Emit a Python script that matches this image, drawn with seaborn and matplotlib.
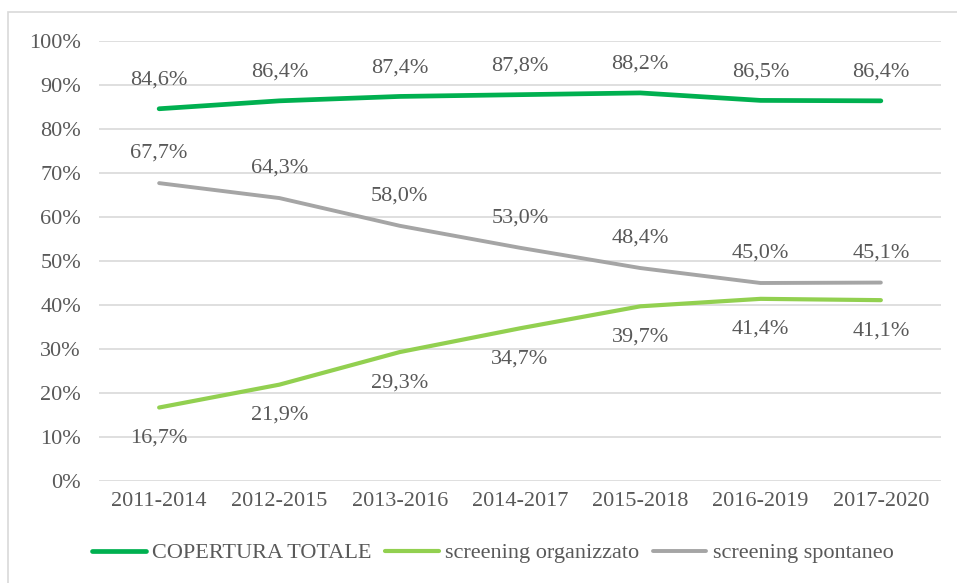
import numpy as np
import pandas as pd
import seaborn as sns
import matplotlib.pyplot as plt
from matplotlib.patches import Rectangle

periodi = ["2011-2014", "2012-2015", "2013-2016", "2014-2017",
           "2015-2018", "2016-2019", "2017-2020"]
copertura = [84.6, 86.4, 87.4, 87.8, 88.2, 86.5, 86.4]
organizzato = [16.7, 21.9, 29.3, 34.7, 39.7, 41.4, 41.1]
spontaneo = [67.7, 64.3, 58.0, 53.0, 48.4, 45.0, 45.1]

serie = ["COPERTURA TOTALE", "screening organizzato", "screening spontaneo"]
colori = ["#00B050", "#92D050", "#A5A5A5"]
spessori = [3.4, 3.0, 2.8]

df = pd.DataFrame({"periodo": periodi * 3,
                   "valore": copertura + organizzato + spontaneo,
                   "serie": np.repeat(serie, len(periodi))})

sns.set_theme(style="white")
plt.rcParams['font.family'] = ['Liberation Serif', 'DejaVu Serif']
testo = "#595959"
fs = 16

fig = plt.figure(figsize=(9.57, 5.83), dpi=100)
ax = fig.add_axes([99 / 957, 1 - 481 / 583, 842 / 957, 440 / 583])

sns.lineplot(data=df, x="periodo", y="valore", hue="serie", palette=colori,
             sort=False, ax=ax, legend=False)
for l, lw in zip(ax.lines, spessori):
    l.set_solid_capstyle("round")
    l.set_linewidth(lw)

ax.set_ylim(0, 100)
ax.set_xlim(-0.5, 6.5)
ax.set_yticks(range(0, 101, 10))
ax.set_yticklabels([f"{v}%" for v in range(0, 101, 10)])
ax.grid(axis="y", color="#D9D9D9", linewidth=1.2)
ax.set_axisbelow(True)
sns.despine(ax=ax, left=True, top=True, right=True, bottom=True)
ax.tick_params(axis="both", colors=testo, labelsize=fs, length=0)
ax.tick_params(axis="y", pad=13)
ax.tick_params(axis="x", pad=8)
ax.set_xlabel("")
ax.set_ylabel("")

def fmt(v):
    return f"{v:.1f}%".replace(".", ",")

for i in range(len(periodi)):
    ax.annotate(fmt(copertura[i]), (i, copertura[i]), xytext=(0, 20.5),
                textcoords="offset points", ha="center", va="center",
                fontsize=fs, color=testo)
    ax.annotate(fmt(spontaneo[i]), (i, spontaneo[i]), xytext=(0, 21.5),
                textcoords="offset points", ha="center", va="center",
                fontsize=fs, color=testo)
    ax.annotate(fmt(organizzato[i]), (i, organizzato[i]), xytext=(0, -22),
                textcoords="offset points", ha="center", va="center",
                fontsize=fs, color=testo)

handles = [plt.Line2D([0], [0], color=c, linewidth=lw, solid_capstyle="round")
           for c, lw in zip(colori, spessori)]
fig.legend(handles, serie, loc="center", bbox_to_anchor=(0.515, 1 - 553 / 583),
           ncol=3, frameon=False, fontsize=fs, labelcolor=testo,
           handlelength=2.4, handletextpad=0.3, columnspacing=0.6)

fig.patches.append(Rectangle((8 / 957, -0.1), 1.2, 1 - 12 / 583 + 0.1,
                             transform=fig.transFigure, fill=False,
                             edgecolor="#D9D9D9", linewidth=1.2))

fig.savefig("out.png", dpi=100)
